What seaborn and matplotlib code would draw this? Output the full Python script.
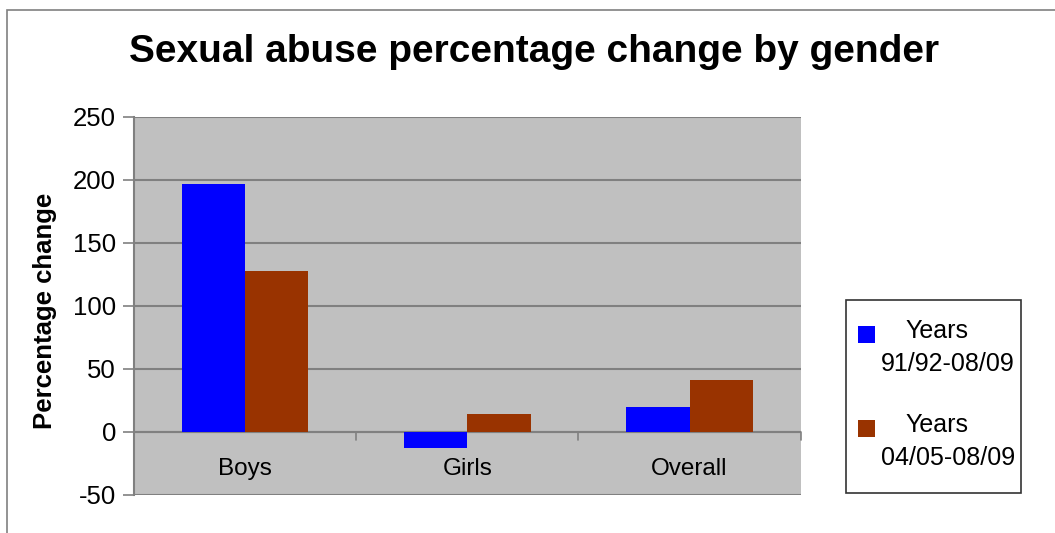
import matplotlib
matplotlib.use("Agg")
import matplotlib.pyplot as plt
from matplotlib.patches import Rectangle
import seaborn as sns
import pandas as pd

groups = ["Boys", "Girls", "Overall"]
periods = ["Years 91/92-08/09", "Years 04/05-08/09"]
change_91_92 = [197, -13, 20]
change_04_05 = [128, 14, 41]
colors = ["#0000FF", "#993300"]
y_ticks = [-50, 0, 50, 100, 150, 200, 250]

df = pd.DataFrame({
    "group": groups * 2,
    "period": [periods[0]] * 3 + [periods[1]] * 3,
    "change": change_91_92 + change_04_05,
})

sns.set_theme(style="white")
plt.rcParams["font.family"] = ["Liberation Sans", "DejaVu Sans"]
plt.rcParams["text.color"] = "black"
plt.rcParams["axes.labelcolor"] = "black"
plt.rcParams["ytick.labelcolor"] = "black"

fig = plt.figure(figsize=(10.55, 5.33), dpi=100)
ax = fig.add_axes([0.127, 0.0713, 0.632, 0.7092])
ax.set_facecolor("#C0C0C0")

sns.barplot(data=df, x="group", y="change", hue="period", palette=colors,
            width=0.57, saturation=1, legend=False, ax=ax, zorder=3,
            edgecolor="none", linewidth=0)

ax.set_ylim(-50, 250)
ax.set_xlim(-0.5, 2.5)
ax.set_yticks(y_ticks)
ax.set_yticklabels([str(t) for t in y_ticks], fontsize=18.5)
ax.yaxis.grid(True, color="#808080", linewidth=1.5, zorder=1)
ax.set_axisbelow(True)

for s in ["top", "right", "bottom"]:
    ax.spines[s].set_visible(False)
ax.spines["left"].set_color("#808080")
ax.spines["left"].set_linewidth(1.5)
ax.tick_params(axis="y", length=8, width=1.2, color="#808080", left=True, pad=5)

# category axis crossing at zero
ax.set_xticks([])
ax.axhline(0, color="#808080", linewidth=1.5, zorder=2)
for b in [-0.5, 0.5, 1.5, 2.5]:
    ax.plot([b, b], [0, -6], color="#808080", linewidth=1.2, clip_on=False, zorder=2)
for i, g in enumerate(groups):
    ax.text(i, -29, g, ha="center", va="center", fontsize=17.5)

ax.set_xlabel("")
ax.set_ylabel("Percentage change", fontsize=18.5, fontweight="bold")
ax.yaxis.set_label_coords(-0.116, 0.487)

fig.suptitle("Sexual abuse percentage change by gender", fontsize=28,
             fontweight="bold", x=0.506, y=0.937)

# outer chart frame
fig.patches.append(Rectangle((0.007, -0.1), 1.2, 1.081, transform=fig.transFigure,
                             fill=False, edgecolor="#808080", linewidth=1.2))

# legend
fig.patches.append(Rectangle((846 / 1055, 1 - 493 / 533), 175 / 1055, 193 / 533,
                             transform=fig.transFigure, facecolor="white",
                             edgecolor="#333333", linewidth=1.2))
for k, (name, c) in enumerate(zip(periods, colors)):
    top_px = 326 + k * 94
    fig.patches.append(Rectangle((858 / 1055, 1 - (top_px + 17) / 533), 17 / 1055, 17 / 533,
                                 transform=fig.transFigure, facecolor=c, edgecolor="none"))
    first, second = name.split(" ", 1)
    fig.text(937 / 1055, 1 - (top_px + 5) / 533, first, ha="center", va="center", fontsize=18)
    fig.text(948 / 1055, 1 - (top_px + 38) / 533, second, ha="center", va="center", fontsize=18)

fig.savefig("out.png", dpi=100)
